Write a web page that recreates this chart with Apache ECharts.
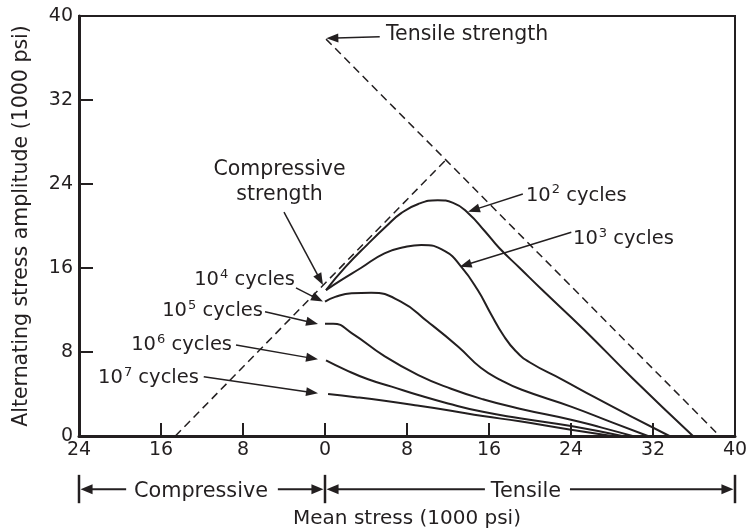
<!DOCTYPE html>
<html>
<head>
<meta charset="utf-8">
<script src="https://cdn.jsdelivr.net/npm/echarts@6/dist/echarts.min.js"></script>
<style>html,body{margin:0;padding:0;background:#fff}#c{width:747px;height:531px}</style>
</head>
<body>
<div id="c"></div>
<script>
// ---------- data (mean stress, alternating stress amplitude), 1000 psi ----------
const xTickValues = [-24, -16, -8, 0, 8, 16, 24, 32, 40];
const yTickValues = [0, 8, 16, 24, 32, 40];
const tensileStrengthLine = [[0.1, 37.8], [38.5, 0]];
const compressiveStrengthLine = [[-14.6, 0], [12.0, 26.5]];
const cycles1e2 = [[0.1,13.9],[2,16.1],[4.2,18.3],[6,20.0],[7.4,21.2],[9.1,22.1],[11.0,22.45],[12.5,22.2],[14.0,21.2],[15.6,19.5],[17,17.9],[19,16.0],[21.1,14.0],[25.3,10.1],[29.9,5.6],[35.9,0]];
const cycles1e3 = [[0.1,13.9],[1.5,14.8],[3.5,16.0],[5.8,17.4],[7.8,18.0],[9.4,18.2],[11.7,17.6],[13.3,16.1],[14.9,13.9],[16.2,11.6],[17.4,9.6],[18.6,8.1],[20.0,7.0],[23.1,5.4],[26.3,3.7],[30,1.8],[33.6,0]];
const cycles1e4 = [[0,12.8],[1,13.25],[2.6,13.6],[4.5,13.65],[7.4,12.8],[10.0,10.9],[13.0,8.5],[15.2,6.5],[17.2,5.3],[19.2,4.4],[24,2.8],[28,1.3],[31.5,0]];
const cycles1e5 = [[0,10.7],[0.8,10.7],[2.6,9.8],[5.8,7.6],[9.1,5.8],[12.3,4.5],[15.4,3.5],[19,2.6],[24,1.55],[27,0.8],[30,0]];
const cycles1e6 = [[0.1,7.2],[2,6.3],[4.2,5.4],[6.5,4.7],[9.1,3.9],[12,3.1],[15.4,2.3],[19,1.7],[24,0.95],[29,0]];
const cycles1e7 = [[0.3,4.0],[3,3.7],[5.8,3.35],[9,2.9],[12.3,2.4],[15.4,1.9],[19,1.4],[24,0.6],[28,0]];
const curveLabels = ['10^2 cycles','10^3 cycles','10^4 cycles','10^5 cycles','10^6 cycles','10^7 cycles'];

// ---------- layout of annotations (data coordinates) ----------
const INK = '#231f20';
const FONT = 'DejaVu Sans';
const labelLayout = [
  // [exponent, textX, textY, align, arrowFrom, arrowTo]
  ['2', 19.6, 23.19, 'left',  [19.3, 23.05], [13.95, 21.36]],
  ['3', 24.2, 19.07, 'left',  [24.03, 19.4], [13.14, 16.12]],
  ['4', -2.93, 15.15, 'right', [-2.83, 14.1], [-0.2, 12.8]],
  ['5', -6.05, 12.2, 'right', [-5.85, 11.84], [-0.68, 10.67]],
  ['6', -9.07, 8.98, 'right', [-8.68, 8.67], [-0.68, 7.3]],
  ['7', -12.3, 5.81, 'right', [-11.83, 5.65], [-0.68, 4.06]]
];

const chart = echarts.init(document.getElementById('c'), null, {renderer: 'canvas'});

function curve(name, data) {
  return {name, type: 'line', data, symbol: 'none', smooth: 0.5, silent: true,
    lineStyle: {color: INK, width: 2}, z: 3};
}
function dashed(name, data) {
  return {name, type: 'line', data, symbol: 'none', silent: true,
    lineStyle: {color: INK, width: 1.5, type: [8, 5]}, z: 2};
}

chart.setOption({
  animation: false,
  grid: {left: 79, right: 12, top: 16, bottom: 95, show: true, borderColor: INK, borderWidth: 2, outerBoundsMode: 'none'},
  xAxis: {
    type: 'value', min: -24, max: 40, interval: 8,
    axisLine: {show: true, onZero: false, lineStyle: {color: INK, width: 3}},
    axisTick: {show: true, inside: true, length: 13, lineStyle: {color: INK, width: 2}},
    axisLabel: {color: INK, fontSize: 19, fontFamily: FONT, margin: 5,
      formatter: v => xTickValues.includes(v) ? String(Math.abs(v)) : ''},
    splitLine: {show: false},
    name: 'Mean stress (1000 psi)', nameLocation: 'middle', nameGap: 73,
    nameTextStyle: {color: INK, fontSize: 20, fontFamily: FONT}
  },
  yAxis: {
    type: 'value', min: 0, max: 40, interval: 8,
    axisLine: {show: true, onZero: false, lineStyle: {color: INK, width: 3}},
    axisTick: {show: true, inside: true, length: 14, lineStyle: {color: INK, width: 2}},
    axisLabel: {color: INK, fontSize: 19, fontFamily: FONT, margin: 6,
      formatter: v => yTickValues.includes(v) ? String(v) : ''},
    splitLine: {show: false},
    name: 'Alternating stress amplitude (1000 psi)', nameLocation: 'middle', nameGap: 47,
    nameTextStyle: {color: INK, fontSize: 20.5, fontFamily: FONT}
  },
  series: [
    dashed('Tensile strength', tensileStrengthLine),
    dashed('Compressive strength', compressiveStrengthLine),
    curve(curveLabels[0], cycles1e2),
    curve(curveLabels[1], cycles1e3),
    curve(curveLabels[2], cycles1e4),
    curve(curveLabels[3], cycles1e5),
    curve(curveLabels[4], cycles1e6),
    curve(curveLabels[5], cycles1e7)
  ]
});

const P = (x, y) => chart.convertToPixel({gridIndex: 0}, [x, y]);
const g = [];
function arrow(from, to, head = 12, half = 4.5, w = 1.5) {
  const a = P(from[0], from[1]), b = P(to[0], to[1]);
  const dx = b[0] - a[0], dy = b[1] - a[1], len = Math.hypot(dx, dy);
  const ux = dx / len, uy = dy / len, nx = -uy, ny = ux;
  const bx = b[0] - ux * head, by = b[1] - uy * head;
  g.push({type: 'line', shape: {x1: a[0], y1: a[1], x2: bx + ux * 2, y2: by + uy * 2}, style: {stroke: INK, lineWidth: w}, z: 10});
  g.push({type: 'polygon', shape: {points: [[b[0], b[1]], [bx + nx * half, by + ny * half], [bx - nx * half, by - ny * half]]}, style: {fill: INK}, z: 10});
}
function text(str, x, y, align, size) {
  const p = P(x, y);
  g.push({type: 'text', x: p[0], y: p[1] + 2, z: 11,
    style: {text: str, fill: INK, font: size + 'px "' + FONT + '"', align: align, verticalAlign: 'middle'}});
}

// curve labels with superscripts
labelLayout.forEach(l => {
  const p = P(l[1], l[2]);
  g.push({type: 'text', x: p[0], y: p[1] + 2, z: 11, style: {
    text: '{n|10}{s|' + l[0] + '}{n| cycles}', align: l[3], verticalAlign: 'middle',
    rich: {
      n: {fontSize: 19.5, fontFamily: FONT, fill: INK, color: INK, lineHeight: 22, verticalAlign: 'bottom'},
      s: {fontSize: 13, fontFamily: FONT, fill: INK, color: INK, lineHeight: 22, verticalAlign: 'top', padding: [0, 0, 0, 1]}
    }}});
  arrow(l[4], l[5]);
});

// strength annotations
text('Tensile strength', 5.95, 38.38, 'left', 20.5);
arrow([5.34, 38.03], [0.13, 37.87]);
text('Compressive', -4.44, 25.57, 'center', 20.5);
text('strength', -4.44, 23.2, 'center', 20.5);
arrow([-4.0, 21.33], [-0.2, 14.38]);

// compressive / tensile range brackets below the axis
[-24, 0, 40].forEach(v => {
  const a = P(v, -3.7), b = P(v, -6.4);
  g.push({type: 'line', shape: {x1: a[0], y1: a[1], x2: b[0], y2: b[1]}, style: {stroke: INK, lineWidth: 2.5}, z: 10});
});
const by = -5.08;
arrow([-19.4, by], [-23.85, by], 12, 5, 2);
arrow([-4.6, by], [-0.15, by], 12, 5, 2);
arrow([15.6, by], [0.15, by], 12, 5, 2);
arrow([23.9, by], [39.85, by], 12, 5, 2);
text('Compressive', -12.1, by, 'center', 20.8);
text('Tensile', 19.6, by, 'center', 20.8);

chart.setOption({graphic: g});
</script>
</body>
</html>
